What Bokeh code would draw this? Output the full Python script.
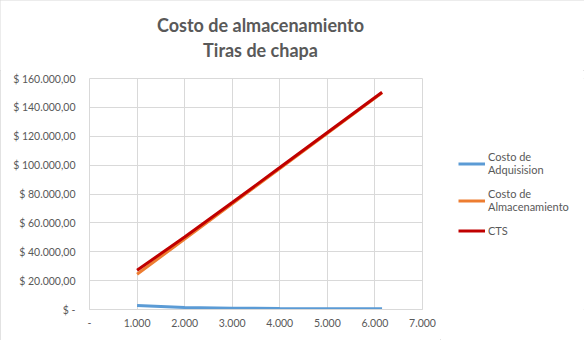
from bokeh.plotting import figure
from bokeh.models import Range1d, FixedTicker, Legend, LegendItem, Label
from bokeh.layouts import column, row
from bokeh.embed import file_html
from bokeh.resources import INLINE

# ---- data ----
cantidad = [1000, 2000, 3000, 4000, 5000, 6000, 6150]
costo_adquisicion = [2800, 1400, 930, 700, 560, 470, 455]
costo_almacenamiento = [24400, 48800, 73200, 97600, 122000, 146400, 150060]
cts = [a + b for a, b in zip(costo_adquisicion, costo_almacenamiento)]

x_ticks = [0, 1000, 2000, 3000, 4000, 5000, 6000, 7000]
x_tick_labels = ["-", "1.000", "2.000", "3.000", "4.000", "5.000", "6.000", "7.000"]
y_ticks = [0, 20000, 40000, 60000, 80000, 100000, 120000, 140000, 160000]
y_tick_labels = ["$ -", "$ 20.000,00", "$ 40.000,00", "$ 60.000,00", "$ 80.000,00",
                 "$ 100.000,00", "$ 120.000,00", "$ 140.000,00", "$ 160.000,00"]
series_names = ["Costo de\nAdquisision", "Costo de\nAlmacenamiento", "CTS"]
title_lines = ["Costo de almacenamiento", "Tiras de chapa"]
colors = ["#5B9BD5", "#ED7D31", "#C00000"]
series_values = [costo_adquisicion, costo_almacenamiento, cts]

FONT = "Lato"
GREY = "#595959"
GRID = "#d9d9d9"
TOP_H = 70


def blank(width, height):
    f = figure(width=width, height=height, x_range=Range1d(0, width), y_range=Range1d(height, 0),
               output_backend="svg", toolbar_location=None, title=None,
               min_border=0, x_axis_location=None, y_axis_location=None)
    f.xgrid.visible = False
    f.ygrid.visible = False
    f.outline_line_color = None
    f.background_fill_color = "white"
    f.border_fill_color = "white"
    return f


# ---- title strip ----
t = blank(584, TOP_H)
for i, txt in enumerate(title_lines):
    t.add_layout(Label(x=260, y=24 + 25 * i, text=txt, text_align="center",
                       text_baseline="middle", text_font=FONT, text_font_style="bold",
                       text_font_size="18px", text_color=GREY))

# ---- main chart ----
p = figure(width=440, height=340 - TOP_H, x_range=Range1d(0, 7000), y_range=Range1d(0, 160000),
           output_backend="svg", toolbar_location=None, title=None,
           min_border_left=89, min_border_right=18, min_border_top=78 - TOP_H, min_border_bottom=31)
p.background_fill_color = "white"
p.border_fill_color = "white"
p.outline_line_color = GRID

p.xaxis.ticker = FixedTicker(ticks=x_ticks)
p.yaxis.ticker = FixedTicker(ticks=y_ticks)
p.xaxis.major_label_overrides = dict(zip(x_ticks, x_tick_labels))
p.yaxis.major_label_overrides = dict(zip(y_ticks, y_tick_labels))
for ax in (p.xaxis, p.yaxis):
    ax.major_tick_line_color = None
    ax.minor_tick_line_color = None
    ax.major_tick_out = 0
    ax.major_tick_in = 0
    ax.major_label_text_font = FONT
    ax.major_label_text_font_size = "10.5px"
    ax.major_label_text_color = GREY
p.xaxis.axis_line_color = GRID
p.yaxis.axis_line_color = None
p.xaxis.major_label_standoff = 9
p.yaxis.major_label_standoff = 14
p.xgrid.grid_line_color = GRID
p.ygrid.grid_line_color = GRID

for vals, c in zip(series_values, colors):
    p.line(cantidad, vals, line_color=c, line_width=3)

# ---- legend strip (same series, drawn off-screen there; only the legend shows) ----
lg = blank(144, 340 - TOP_H)
items = []
for name, vals, c in zip(series_names, series_values, colors):
    r = lg.line(cantidad, vals, line_color=c, line_width=3)
    items.append(LegendItem(label=name, renderers=[r]))
legend = Legend(items=items, location=(18, 72), padding=0, margin=0, spacing=11,
                glyph_width=27, glyph_height=13, label_standoff=3, label_height=13,
                label_text_font=FONT, label_text_font_size="11px", label_text_color=GREY,
                border_line_color=None, background_fill_alpha=0)
lg.add_layout(legend, "center")

layout = column(t, row(p, lg, spacing=0), spacing=0)
layout.styles = {"outline": "1px solid #d9d9d9", "outline-offset": "-1px"}
open("out.html", "w").write(file_html(layout, INLINE))
